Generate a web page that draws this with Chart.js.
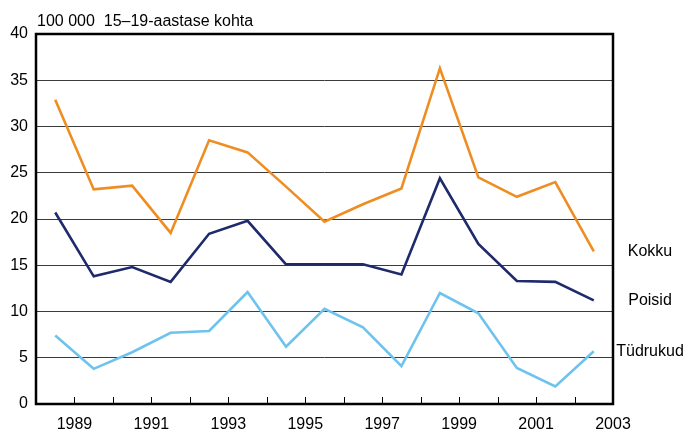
<!DOCTYPE html>
<html>
<head>
<meta charset="utf-8">
<script src="https://cdn.jsdelivr.net/npm/chart.js@4/dist/chart.umd.min.js"></script>
<style>
html,body{margin:0;padding:0;background:#fff;}
#wrap{width:687px;height:432px;position:relative;}
</style>
</head>
<body>
<div id="wrap"><canvas id="c" width="687" height="432"></canvas></div>
<script>
const years = [1988,1989,1990,1991,1992,1993,1994,1995,1996,1997,1998,1999,2000,2001,2002];
const kokku = [32.9,23.2,23.6,18.5,28.5,27.2,23.5,19.7,21.6,23.3,36.3,24.5,22.4,24.0,16.5];
const poisid = [20.7,13.8,14.8,13.2,18.4,19.8,15.1,15.1,15.1,14.0,24.4,17.3,13.3,13.2,11.2];
const tudrukud = [7.4,3.8,5.6,7.7,7.9,12.1,6.2,10.3,8.3,4.1,12.0,9.8,3.9,1.9,5.7];
const xTickLabels = [1989,1991,1993,1995,1997,1999,2001,2003];
const seriesNames = ['Kokku','Poisid','Tüdrukud'];
const unitTitle = '100 000  15–19-aastase kohta';

const FONT = '"Liberation Sans", Arial, sans-serif';
const toPts = arr => arr.map((v,i)=>({x: years[i] + 0.5, y: v}));

const decor = {
  id: 'decor',
  afterDatasetsDraw(chart) {
    const {ctx, chartArea: a, scales} = chart;
    ctx.save();
    ctx.strokeStyle = '#000';
    ctx.lineWidth = 1;
    for (let yr = years[0] + 1; yr <= years[years.length-1]; yr++) {
      const x = Math.round(scales.x.getPixelForValue(yr)) + 0.5;
      ctx.beginPath();
      ctx.moveTo(x, a.bottom);
      ctx.lineTo(x, a.bottom - 7);
      ctx.stroke();
    }
    ctx.lineWidth = 2.5;
    ctx.strokeStyle = '#000';
    ctx.strokeRect(a.left, a.top, a.right - a.left, a.bottom - a.top);
    ctx.fillStyle = '#000';
    ctx.font = '16px ' + FONT;
    ctx.textAlign = 'left';
    ctx.textBaseline = 'middle';
    ctx.fillText(unitTitle, a.left + 1, 22);
    const lasts = [kokku, poisid, tudrukud].map(s => s[s.length-1]);
    ctx.textAlign = 'center';
    seriesNames.forEach((n, i) => {
      const y = scales.y.getPixelForValue(lasts[i]);
      ctx.fillText(n, a.right + 37, y);
    });
    ctx.restore();
  }
};

new Chart(document.getElementById('c'), {
  type: 'line',
  data: {
    datasets: [
      {label: seriesNames[0], data: toPts(kokku), borderColor: '#EF8D22', borderWidth: 2.6},
      {label: seriesNames[1], data: toPts(poisid), borderColor: '#1E2A6C', borderWidth: 2.6},
      {label: seriesNames[2], data: toPts(tudrukud), borderColor: '#6EC3EE', borderWidth: 2.6}
    ]
  },
  options: {
    responsive: false,
    animation: false,
    events: [],
    elements: {point: {radius: 0}, line: {tension: 0}},
    layout: {padding: {top: 34, right: 74, left: 0, bottom: 0}},
    plugins: {legend: {display: false}, title: {display: false}, tooltip: {enabled: false}},
    scales: {
      x: {
        type: 'linear',
        min: 1988, max: 2003,
        afterFit: s => { s.height = 28; },
        afterBuildTicks: s => { s.ticks = xTickLabels.map(v => ({value: v})); },
        grid: {display: false, drawTicks: false},
        border: {display: false},
        ticks: {
          autoSkip: false, maxRotation: 0, padding: 11,
          color: '#000', font: {family: FONT, size: 16},
          callback: v => String(v)
        }
      },
      y: {
        min: 0, max: 40,
        afterFit: s => { s.width = 36; },
        grid: {color: '#3a3a3a', lineWidth: 1, drawTicks: false},
        border: {display: false},
        ticks: {stepSize: 5, padding: 8, color: '#000', font: {family: FONT, size: 16}}
      }
    }
  },
  plugins: [decor]
});
</script>
</body>
</html>
